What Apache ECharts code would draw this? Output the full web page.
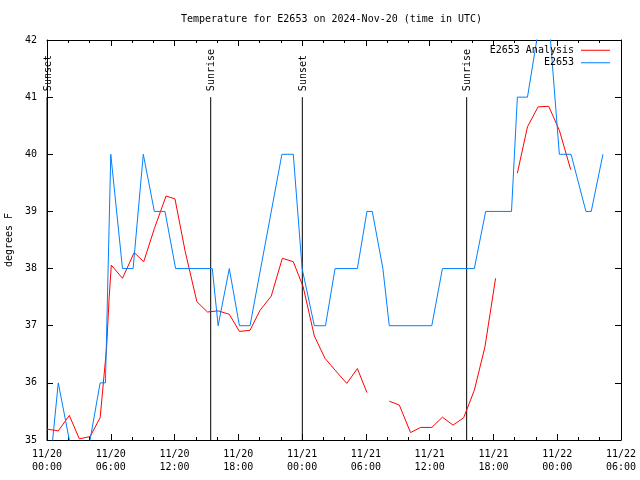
<!DOCTYPE html>
<html>
<head>
<meta charset="utf-8">
<script src="https://cdn.jsdelivr.net/npm/echarts@6.0.0/dist/echarts.min.js"></script>
<style>html,body{margin:0;padding:0;background:#fff}#c{width:640px;height:480px}</style>
</head>
<body>
<div id="c"></div>
<script>
// Hours since 2024-11-20 00:00 UTC
var xTickLabels = ['11/20\n00:00','11/20\n06:00','11/20\n12:00','11/20\n18:00','11/21\n00:00','11/21\n06:00','11/21\n12:00','11/21\n18:00','11/22\n00:00','11/22\n06:00'];
var yTickValues = [35,36,37,38,39,40,41,42];

var obsTimes = [0, 1.06, 2.1, 3.05, 4.05, 5.0, 5.5, 6.0, 7.1, 8.1, 9.06, 10.1, 11.1, 12.1, 15.55, 16.1, 17.15, 18.1, 19.1, 22.1, 23.17, 24.0, 25.15, 26.2, 27.1, 29.2, 30.1, 30.6, 31.6, 32.2, 36.2, 37.2, 40.2, 41.27, 43.7, 44.25, 45.2, 46.95, 48.2, 49.3, 50.7, 51.2, 52.3];
var obsTemps = [34, 36, 35, 34, 35, 36, 36, 40, 38, 38, 40, 39, 39, 38, 38, 37, 38, 37, 37, 40, 40, 38, 37, 37, 38, 38, 39, 39, 38, 37, 37, 38, 38, 39, 39, 41, 41, 43, 40, 40, 39, 39, 40];

var anaTimes = [0, 1.06, 2.1, 3.04, 4.05, 5.0, 5.6, 5.85, 6.05, 7.1, 8.2, 9.1, 10.1, 11.2, 12.04, 13.0, 14.1, 15.1, 16.1, 17.15, 18.1, 19.1, 20.04, 21.1, 22.14, 23.17, 24.1, 25.15, 26.15, 27.16, 28.2, 29.2, 30.1, 31.15, 32.2, 33.15, 34.2, 35.15, 36.2, 37.2, 38.2, 39.2, 40.2, 41.2, 42.2, 43.2, 44.25, 45.2, 46.2, 47.2, 48.2, 49.27];
var anaTemps = [35.19, 35.16, 35.43, 35.02, 35.06, 35.39, 36.6, 37.5, 38.06, 37.83, 38.28, 38.12, 38.7, 39.27, 39.22, 38.3, 37.42, 37.24, 37.26, 37.2, 36.9, 36.92, 37.27, 37.52, 38.18, 38.12, 37.68, 36.82, 36.43, 36.21, 35.99, 36.25, 35.83, null, 35.68, 35.61, 35.13, 35.22, 35.22, 35.40, 35.26, 35.39, 35.87, 36.63, 37.83, null, 39.67, 40.48, 40.83, 40.84, 40.42, 39.73];

var sunTimes = [0, 15.4, 24.02, 39.48];
var sunLabels = ['Sunset', 'Sunrise', 'Sunset', 'Sunrise'];

var FONT = '"DejaVu Sans Mono", "Liberation Mono", monospace';

var obsData = obsTimes.map(function (t, i) { return [t, obsTemps[i]]; });
var anaData = anaTimes.map(function (t, i) { return [t, anaTemps[i] === null ? '-' : anaTemps[i]]; });
var sunData = sunTimes.map(function (t) { return [t, 41]; });

var chart = echarts.init(document.getElementById('c'), null, {renderer: 'canvas'});

var axisCommon = {
  axisLine: {show: true, onZero: false, lineStyle: {color: '#000', width: 1}},
  splitLine: {show: false}
};

chart.setOption({
  animation: false,
  backgroundColor: '#fff',
  title: {
    text: 'Temperature for E2653 on 2024-Nov-20 (time in UTC)',
    left: 181, top: 14, padding: 0,
    textStyle: {fontFamily: FONT, fontSize: 10, fontWeight: 'normal', color: '#000'}
  },
  legend: {
    data: ['E2653 Analysis', 'E2653'],
    orient: 'vertical', align: 'right',
    right: 30, top: 44, padding: 0,
    itemGap: 0, itemWidth: 29, itemHeight: 1,
    icon: 'rect',
    textStyle: {fontFamily: FONT, fontSize: 10, color: '#000', lineHeight: 12.5, padding: [0, 2, 0, 0]}
  },
  grid: {left: 47, right: 19, top: 40, bottom: 40, containLabel: false, outerBoundsMode: 'none'},
  xAxis: [
    Object.assign({}, axisCommon, {
      type: 'value', min: 0, max: 54, interval: 6, position: 'bottom',
      axisTick: {show: true, inside: true, length: 6, lineStyle: {color: '#000'}},
      minorTick: {show: true, splitNumber: 3, length: 3, lineStyle: {color: '#000'}},
      axisLabel: {
        show: true, margin: 8, color: '#000', fontFamily: FONT, fontSize: 10, lineHeight: 13,
        showMinLabel: true, showMaxLabel: true,
        formatter: function (v) { return xTickLabels[Math.round(v / 6)] || ''; }
      }
    }),
    Object.assign({}, axisCommon, {
      type: 'value', min: 0, max: 54, interval: 6, position: 'top',
      axisTick: {show: true, inside: true, length: 6, lineStyle: {color: '#000'}},
      minorTick: {show: true, splitNumber: 3, length: 3, lineStyle: {color: '#000'}},
      axisLabel: {show: false}
    })
  ],
  yAxis: [
    Object.assign({}, axisCommon, {
      type: 'value', min: yTickValues[0], max: yTickValues[yTickValues.length - 1], interval: 1, position: 'left',
      name: 'degrees F', nameLocation: 'middle', nameGap: 31, nameRotate: 90,
      nameTextStyle: {fontFamily: FONT, fontSize: 10, color: '#000'},
      axisTick: {show: true, inside: true, length: 6, lineStyle: {color: '#000'}},
      axisLabel: {show: true, margin: 10, color: '#000', fontFamily: FONT, fontSize: 10}
    }),
    Object.assign({}, axisCommon, {
      type: 'value', min: yTickValues[0], max: yTickValues[yTickValues.length - 1], interval: 1, position: 'right',
      axisTick: {show: true, inside: true, length: 6, lineStyle: {color: '#000'}},
      axisLabel: {show: false}
    })
  ],
  series: [
    {
      type: 'custom', name: 'sun', xAxisIndex: 0, yAxisIndex: 0,
      data: sunData, encode: {x: 0, y: 1}, silent: true, z: 1,
      renderItem: function (params, api) {
        var t = api.value(0);
        var p0 = api.coord([t, 35]);
        var p1 = api.coord([t, 41]);
        return {
          type: 'group',
          children: [
            {type: 'line', shape: {x1: p0[0], y1: p0[1], x2: p1[0], y2: p1[1]}, style: {stroke: '#000', lineWidth: 1}},
            {type: 'text', x: p1[0] + 1, y: p1[1] - 6, rotation: Math.PI / 2,
             style: {text: sunLabels[params.dataIndex], font: '10px ' + FONT, fill: '#000', align: 'left', verticalAlign: 'middle'}}
          ]
        };
      }
    },
    {
      type: 'line', name: 'E2653 Analysis', data: anaData, showSymbol: false, connectNulls: false,
      lineStyle: {color: '#ff0000', width: 1}, itemStyle: {color: '#ff0000'}, z: 2, clip: true
    },
    {
      type: 'line', name: 'E2653', data: obsData, showSymbol: false,
      lineStyle: {color: '#0080ff', width: 1}, itemStyle: {color: '#0080ff'}, z: 3, clip: true
    }
  ]
});
</script>
</body>
</html>
